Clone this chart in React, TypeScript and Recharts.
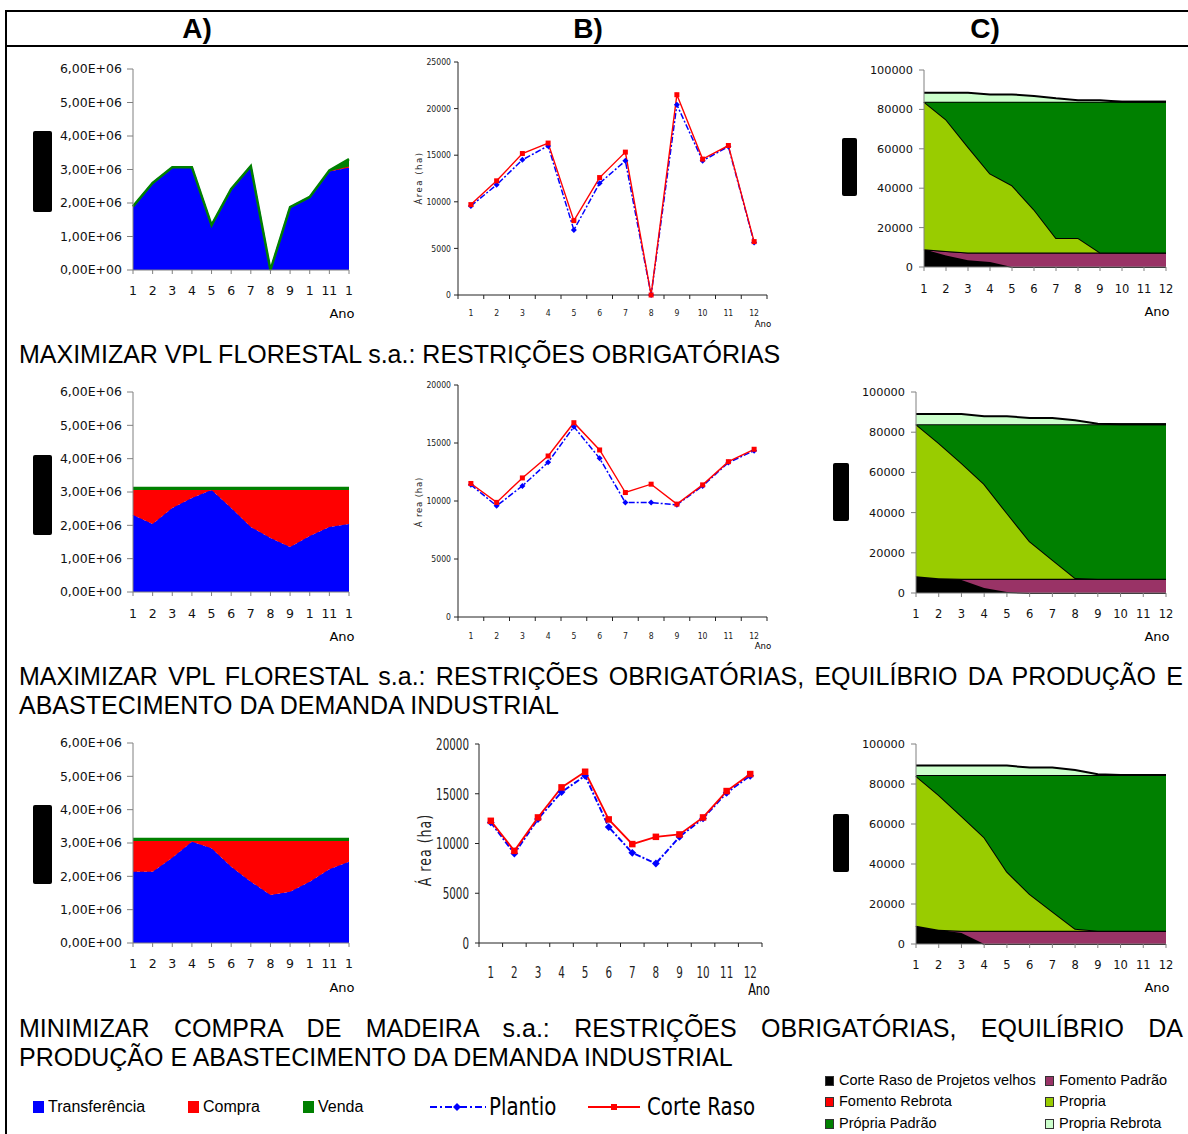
import React from 'react'
import { AreaChart, Area, LineChart, Line, XAxis, YAxis } from 'recharts'

const SANS = "'Liberation Sans', Arial, sans-serif"
const NARROW = "'DejaVu Sans Condensed', 'Liberation Sans Narrow', sans-serif"
const DEJAVU = "'DejaVu Sans', sans-serif"

const anos = [1, 2, 3, 4, 5, 6, 7, 8, 9, 10, 11, 12]
const rotulosAnoA = ['1', '2', '3', '4', '5', '6', '7', '8', '9', '1', '11', '1']
const ticksA = [0, 1, 2, 3, 4, 5, 6]
const ticksB1 = [0, 5000, 10000, 15000, 20000, 25000]
const ticksB = [0, 5000, 10000, 15000, 20000]
const ticksC = [0, 20000, 40000, 60000, 80000, 100000]

// A) valores em E+06
const transf1 = [1.9, 2.6, 3.07, 3.07, 1.34, 2.42, 3.1, 0, 1.88, 2.18, 2.95, 3.05]
const compra1 = [0, 0, 0, 0, 0, 0, 0, 0, 0, 0, 0, 0.04]
const venda1 = [0, 0, 0, 0, 0, 0, 0, 0, 0, 0, 0.02, 0.22]

const transf2 = [2.31, 2.04, 2.52, 2.82, 3.06, 2.52, 1.95, 1.62, 1.35, 1.68, 1.95, 2.04]
const compra2 = [0.75, 1.02, 0.54, 0.24, 0, 0.54, 1.11, 1.44, 1.71, 1.38, 1.11, 1.02]
const venda2 = [0.06, 0.06, 0.06, 0.06, 0.06, 0.06, 0.06, 0.06, 0.06, 0.06, 0.06, 0.06]

const transf3 = [2.14, 2.14, 2.56, 3.04, 2.84, 2.29, 1.84, 1.44, 1.54, 1.84, 2.21, 2.44]
const compra3 = [0.92, 0.92, 0.5, 0.02, 0.22, 0.77, 1.22, 1.62, 1.52, 1.22, 0.85, 0.62]
const venda3 = [0.06, 0.06, 0.06, 0.06, 0.06, 0.06, 0.06, 0.06, 0.06, 0.06, 0.06, 0.06]

// B) área (ha)
const plantio1 = [9560, 11820, 14500, 16000, 6980, 12000, 14400, 0, 20410, 14400, 15930, 5620]
const corte1 = [9700, 12250, 15180, 16300, 7980, 12600, 15330, 0, 21490, 14580, 16040, 5730]
const plantio2 = [11400, 9580, 11300, 13340, 16400, 13680, 9860, 9860, 9670, 11300, 13310, 14340]
const corte2 = [11510, 9880, 11990, 13880, 16750, 14400, 10730, 11450, 9730, 11390, 13390, 14460]
const plantio3 = [12120, 8990, 12450, 15170, 16810, 11650, 9060, 7990, 10670, 12520, 15100, 16810]
const corte3 = [12280, 9260, 12620, 15640, 17210, 12420, 9940, 10670, 10910, 12620, 15270, 16980]

// C) estoque (ha)
const velhos1 = [9000, 5900, 3400, 2600, 0, 0, 0, 0, 0, 0, 0, 0]
const fomPad1 = [0, 2200, 3900, 4700, 7300, 7300, 7300, 7300, 7300, 7300, 7300, 7300]
const fomReb1 = [0, 0, 0, 0, 0, 0, 0, 0, 0, 0, 0, 0]
const propria1 = [74900, 66800, 53700, 40200, 34200, 21900, 7400, 7400, 0, 0, 0, 0]
const propPad1 = [0, 9000, 22900, 36400, 42400, 54700, 69200, 69200, 76600, 76600, 76600, 76600]
const propReb1 = [4600, 4600, 4600, 3700, 3700, 2900, 1700, 800, 800, 0, 0, 0]

const velhos2 = [8300, 7300, 6500, 2500, 500, 0, 0, 0, 0, 0, 0, 0]
const fomPad2 = [0, 0, 600, 4600, 6600, 7100, 7100, 7100, 7100, 7100, 7100, 7100]
const fomReb2 = [0, 0, 0, 0, 0, 0, 0, 0, 0, 0, 0, 0]
const propria2 = [75700, 67300, 57600, 47100, 32700, 18600, 9500, 400, 0, 0, 0, 0]
const propPad2 = [0, 9400, 19300, 29800, 44200, 58300, 67400, 76500, 76900, 76900, 76900, 76900]
const propReb2 = [5100, 5100, 5100, 3900, 3900, 3100, 3100, 1900, 200, 0, 0, 0]

const velhos3 = [9100, 7100, 5500, 0, 0, 0, 0, 0, 0, 0, 0, 0]
const fomPad3 = [0, 0, 1100, 6600, 6600, 6600, 6600, 6600, 6600, 6600, 6600, 6600]
const fomReb3 = [0, 0, 0, 0, 0, 0, 0, 0, 0, 0, 0, 0]
const propria3 = [74900, 67400, 57400, 46800, 29600, 18400, 9700, 1000, 0, 0, 0, 0]
const propPad3 = [500, 10000, 20500, 31100, 48300, 59500, 68200, 76900, 77900, 77900, 77900, 77900]
const propReb3 = [4700, 4700, 4700, 4700, 4700, 3700, 3700, 2500, 400, 0, 0, 0]

const seriesC = [
  { key: 'velhos', nome: 'Corte Raso de Projetos velhos', cor: '#000000' },
  { key: 'fomPad', nome: 'Fomento Padrão', cor: '#993366' },
  { key: 'fomReb', nome: 'Fomento Rebrota', cor: '#FF0000' },
  { key: 'propria', nome: 'Propria', cor: '#99CC00' },
  { key: 'propPad', nome: 'Própria Padrão', cor: '#008000' },
  { key: 'propReb', nome: 'Propria Rebrota', cor: '#CCFFCC' },
]
// ordem da legenda (duas colunas)
const legendaC = ['velhos', 'fomPad', 'fomReb', 'propria', 'propPad', 'propReb']

const fmtE = (v: number) => (v === 0 ? '0,00E+00' : `${v.toFixed(2).replace('.', ',')}E+06`)

function Txt({ x, y, size, family = SANS, anchor = 'start', weight, spacing, width, justify, sy, children }: any) {
  const lh = size * 1.2
  let transform = anchor === 'middle' ? 'translateX(-50%)' : anchor === 'end' ? 'translateX(-100%)' : ''
  if (sy) transform += ` scaleY(${sy})`
  return (
    <div
      style={{
        position: 'absolute', left: x, top: y - lh / 2, fontSize: size, lineHeight: `${lh}px`,
        fontFamily: family, fontWeight: weight, letterSpacing: spacing, color: '#000',
        whiteSpace: justify ? 'normal' : 'nowrap', transform: transform || undefined, width,
        textAlign: justify ? 'justify' : undefined, textAlignLast: justify ? 'justify' : undefined,
      }}
    >
      {children}
    </div>
  )
}

function RotTxt({ x, y, size, spacing, sy = 1, children }: any) {
  return (
    <div style={{
      position: 'absolute', left: x, top: y, transform: `translate(-50%,-50%) rotate(-90deg) scaleY(${sy})`,
      fontSize: size, fontFamily: NARROW, whiteSpace: 'nowrap', letterSpacing: spacing, lineHeight: 1, color: '#222',
    }}>{children}</div>
  )
}

function Blk({ x, y, w, h }: any) {
  return <div style={{ position: 'absolute', left: x, top: y, width: w, height: h, background: '#000', borderRadius: 2 }} />
}

function GraficoA({ top, h, transf, compra, venda, gap }: any) {
  const x = 133, w = 216
  const ML = 110, MR = 16, MT = 10, HX = 40
  const data = anos.map((a, i) => ({ ano: a, transf: transf[i], compra: compra[i], venda: venda[i] }))
  return (
    <div style={{ position: 'absolute', left: x - ML, top: top - MT }}>
      <AreaChart width={ML + w + MR} height={MT + h + HX} data={data} margin={{ top: MT, right: MR, bottom: 0, left: 0 }}>
        <XAxis dataKey="ano" height={HX} interval={0} tickSize={4} tickMargin={gap} stroke="#808080"
          tickFormatter={(v: number) => rotulosAnoA[v - 1]} tick={{ fill: '#111', fontSize: 12.5, fontFamily: DEJAVU }} />
        <YAxis width={ML} domain={[0, 6]} ticks={ticksA} interval={0} tickSize={6} tickMargin={5} stroke="#808080"
          tickFormatter={fmtE} tick={{ fill: '#111', fontSize: 12.5, fontFamily: DEJAVU }} />
        <Area type="linear" dataKey="transf" stackId="a" fill="#0000FF" fillOpacity={1} stroke="#0000FF"
          strokeDasharray="4 3" strokeWidth={1.5} isAnimationActive={false} />
        <Area type="linear" dataKey="compra" stackId="a" fill="#FF0000" fillOpacity={1} stroke="#FF0000"
          strokeWidth={1} isAnimationActive={false} />
        <Area type="linear" dataKey="venda" stackId="a" fill="#008000" fillOpacity={1} stroke="#008000"
          strokeWidth={2.5} isAnimationActive={false} />
      </AreaChart>
    </div>
  )
}

function GraficoB({ x, top, w, h, plantio, corte, yTicks, fs, sy, labelOff, big }: any) {
  const ML = 80, MR = 20, MT = 10, HX = 50
  const half = w / 24
  const k = big ? 1.3 : 1
  const data = anos.map((a, i) => ({ ano: a, plantio: plantio[i], corte: corte[i] }))
  const limites = [0.5, ...anos.map((a) => a + 0.5)]
  const diamond = (p: any) => (
    <path key={`d${p.index}`} d={`M${p.cx},${p.cy - 3 * k} l${3 * k},${3 * k} l${-3 * k},${3 * k} l${-3 * k},${-3 * k} z`} fill="#0000FF" />
  )
  const square = (p: any) => (
    <rect key={`s${p.index}`} x={p.cx - 2.5 * k} y={p.cy - 2.5 * k} width={5 * k} height={5 * k} fill="#FF0000" />
  )
  const tickX = (p: any) => {
    const lab = p.payload.value + 0.5
    if (lab > 12) return <g />
    return (
      <text transform={`translate(${p.x + half},${MT + h + labelOff}) scale(1,${sy})`} textAnchor="middle"
        dominantBaseline="central" fontSize={fs} fontFamily={NARROW} fill="#222">
        {lab}
      </text>
    )
  }
  const tickY = (p: any) => (
    <text transform={`translate(${p.x},${p.y}) scale(1,${sy})`} textAnchor="end" dominantBaseline="central"
      fontSize={fs} fontFamily={NARROW} fill="#222">
      {p.payload.value}
    </text>
  )
  return (
    <div style={{ position: 'absolute', left: x - ML, top: top - MT }}>
      <LineChart width={ML + w + MR} height={MT + h + HX} data={data} margin={{ top: MT, right: MR, bottom: 0, left: 0 }}>
        <XAxis dataKey="ano" type="number" domain={[0.5, 12.5]} ticks={limites} interval={0} height={HX}
          tickSize={4} stroke="#222" tick={tickX} />
        <YAxis width={ML} domain={[0, yTicks[yTicks.length - 1]]} ticks={yTicks} interval={0} tickSize={4}
          tickMargin={big ? 6 : 3} stroke="#222" tick={tickY} />
        <Line type="linear" dataKey="plantio" stroke="#0000FF" strokeWidth={1.5 * k} strokeDasharray="6 2 2 2"
          dot={diamond} isAnimationActive={false} />
        <Line type="linear" dataKey="corte" stroke="#FF0000" strokeWidth={1.4 * k} dot={square} isAnimationActive={false} />
      </LineChart>
    </div>
  )
}

function GraficoC({ x, top, w, h, vals, gap }: any) {
  const ML = 100, MR = 16, MT = 10, HX = 40
  const data = anos.map((a, i) => {
    const row: any = { ano: a }
    seriesC.forEach((s) => { row[s.key] = vals[s.key][i] })
    return row
  })
  return (
    <div style={{ position: 'absolute', left: x - ML, top: top - MT }}>
      <AreaChart width={ML + w + MR} height={MT + h + HX} data={data} margin={{ top: MT, right: MR, bottom: 0, left: 0 }}>
        <XAxis dataKey="ano" height={HX} interval={0} tickSize={4} tickMargin={gap} stroke="#808080"
          tick={{ fill: '#111', fontSize: 11.5, fontFamily: DEJAVU }} />
        <YAxis width={ML} domain={[0, 100000]} ticks={ticksC} interval={0} tickSize={5} tickMargin={6} stroke="#808080"
          tick={{ fill: '#111', fontSize: 11.3, fontFamily: DEJAVU }} />
        {seriesC.map((s) => (
          <Area key={s.key} type="linear" dataKey={s.key} stackId="c" fill={s.cor} fillOpacity={1} stroke="#000"
            strokeWidth={2} isAnimationActive={false} />
        ))}
      </AreaChart>
    </div>
  )
}

const corDe = (k: string) => seriesC.find((s) => s.key === k)!

export default function App() {
  return (
    <div style={{ position: 'absolute', left: 0, top: 0, width: 1188, height: 1134, background: '#fff', overflow: 'hidden', fontFamily: SANS }}>
      {/* moldura */}
      <div style={{ position: 'absolute', left: 5, top: 10, width: 1183, height: 2, background: '#000' }} />
      <div style={{ position: 'absolute', left: 5, top: 45, width: 1183, height: 2, background: '#000' }} />
      <div style={{ position: 'absolute', left: 5, top: 10, width: 2, height: 1124, background: '#000' }} />

      <Txt x={197} y={29} size={28} weight="bold" anchor="middle">A)</Txt>
      <Txt x={588} y={29} size={28} weight="bold" anchor="middle">B)</Txt>
      <Txt x={985} y={29} size={28} weight="bold" anchor="middle">C)</Txt>

      {/* linha 1 */}
      <Blk x={33} y={131} w={19} h={81} />
      <GraficoA top={69} h={201} transf={transf1} compra={compra1} venda={venda1} gap={12} />
      <Txt x={342} y={314} size={13} family={DEJAVU} anchor="middle">Ano</Txt>

      <GraficoB x={458} top={62} w={309} h={233} plantio={plantio1} corte={corte1} yTicks={ticksB1} fs={8.6} sy={1.1} labelOff={18} />
      <RotTxt x={419} y={178} size={9.5} spacing={1.5}>Área (ha)</RotTxt>
      <Txt x={763} y={324} size={9.5} family={NARROW} anchor="middle">Ano</Txt>

      <Blk x={842} y={138} w={15} h={58} />
      <GraficoC x={924} top={70} w={242} h={197} gap={14} vals={{ velhos: velhos1, fomPad: fomPad1, fomReb: fomReb1, propria: propria1, propPad: propPad1, propReb: propReb1 }} />
      <Txt x={1157} y={312} size={13} family={DEJAVU} anchor="middle">Ano</Txt>

      <Txt x={19} y={354} size={25}>MAXIMIZAR VPL FLORESTAL s.a.: RESTRIÇÕES OBRIGATÓRIAS</Txt>

      {/* linha 2 */}
      <Blk x={33} y={455} w={19} h={80} />
      <GraficoA top={392} h={200} transf={transf2} compra={compra2} venda={venda2} gap={13} />
      <Txt x={342} y={637} size={13} family={DEJAVU} anchor="middle">Ano</Txt>

      <GraficoB x={458} top={385} w={309} h={232} plantio={plantio2} corte={corte2} yTicks={ticksB} fs={8.6} sy={1.1} labelOff={19} />
      <RotTxt x={419} y={502} size={9.5} spacing={0.8}>Á rea (ha)</RotTxt>
      <Txt x={763} y={646} size={9.5} family={NARROW} anchor="middle">Ano</Txt>

      <Blk x={833} y={463} w={16} h={58} />
      <GraficoC x={916} top={392} w={250} h={201} gap={13} vals={{ velhos: velhos2, fomPad: fomPad2, fomReb: fomReb2, propria: propria2, propPad: propPad2, propReb: propReb2 }} />
      <Txt x={1157} y={637} size={13} family={DEJAVU} anchor="middle">Ano</Txt>

      <Txt x={19} y={676} size={25} width={1164} justify>
        MAXIMIZAR VPL FLORESTAL s.a.: RESTRIÇÕES OBRIGATÓRIAS, EQUILÍBRIO DA PRODUÇÃO E
      </Txt>
      <Txt x={19} y={705} size={25}>ABASTECIMENTO DA DEMANDA INDUSTRIAL</Txt>

      {/* linha 3 */}
      <Blk x={33} y={805} w={19} h={79} />
      <GraficoA top={743} h={200} transf={transf3} compra={compra3} venda={venda3} gap={12} />
      <Txt x={342} y={988} size={13} family={DEJAVU} anchor="middle">Ano</Txt>

      <GraficoB x={479} top={744} w={283} h={199} plantio={plantio3} corte={corte3} yTicks={ticksB} fs={11.5} sy={1.4} labelOff={29} big />
      <RotTxt x={424} y={850} size={14} spacing={1} sy={1.3}>Á rea (ha)</RotTxt>
      <Txt x={759} y={989} size={12.5} family={NARROW} anchor="middle" sy={1.3}>Ano</Txt>

      <Blk x={833} y={814} w={16} h={58} />
      <GraficoC x={916} top={744} w={250} h={200} gap={13} vals={{ velhos: velhos3, fomPad: fomPad3, fomReb: fomReb3, propria: propria3, propPad: propPad3, propReb: propReb3 }} />
      <Txt x={1157} y={988} size={13} family={DEJAVU} anchor="middle">Ano</Txt>

      <Txt x={19} y={1028} size={25} width={1164} justify>
        MINIMIZAR COMPRA DE MADEIRA s.a.: RESTRIÇÕES OBRIGATÓRIAS, EQUILÍBRIO DA
      </Txt>
      <Txt x={19} y={1057} size={25}>PRODUÇÃO E ABASTECIMENTO DA DEMANDA INDUSTRIAL</Txt>

      {/* legendas */}
      {[
        { x: 33, cor: '#0000FF', nome: 'Transferência' },
        { x: 188, cor: '#FF0000', nome: 'Compra' },
        { x: 303, cor: '#008000', nome: 'Venda' },
      ].map((it) => (
        <React.Fragment key={it.nome}>
          <div style={{ position: 'absolute', left: it.x, top: 1101, width: 11, height: 12, background: it.cor }} />
          <Txt x={it.x + 15} y={1107} size={16}>{it.nome}</Txt>
        </React.Fragment>
      ))}
      <svg style={{ position: 'absolute', left: 428, top: 1100 }} width={60} height={14}>
        <line x1={2} y1={7} x2={58} y2={7} stroke="#0000FF" strokeWidth={2} strokeDasharray="7 3 2 3" />
        <path d="M29,3 l4,4 l-4,4 l-4,-4 z" fill="#0000FF" />
      </svg>
      <Txt x={489} y={1107} size={22} family={NARROW} sy={1.1}>Plantio</Txt>
      <svg style={{ position: 'absolute', left: 586, top: 1100 }} width={56} height={14}>
        <line x1={2} y1={7} x2={54} y2={7} stroke="#FF0000" strokeWidth={2} />
        <rect x={25} y={4} width={6} height={6} fill="#FF0000" />
      </svg>
      <Txt x={647} y={1107} size={22} family={NARROW} sy={1.1}>Corte Raso</Txt>

      {legendaC.map((k, i) => {
        const s = corDe(k)
        const x = i % 2 === 0 ? 825 : 1045
        const y = [1081, 1102, 1124][Math.floor(i / 2)]
        return (
          <React.Fragment key={k}>
            <div style={{ position: 'absolute', left: x, top: y - 5, width: 9, height: 10, background: s.cor, border: '1px solid #333', boxSizing: 'border-box' }} />
            <Txt x={x + 14} y={y} size={14.5}>{s.nome}</Txt>
          </React.Fragment>
        )
      })}
    </div>
  )
}
